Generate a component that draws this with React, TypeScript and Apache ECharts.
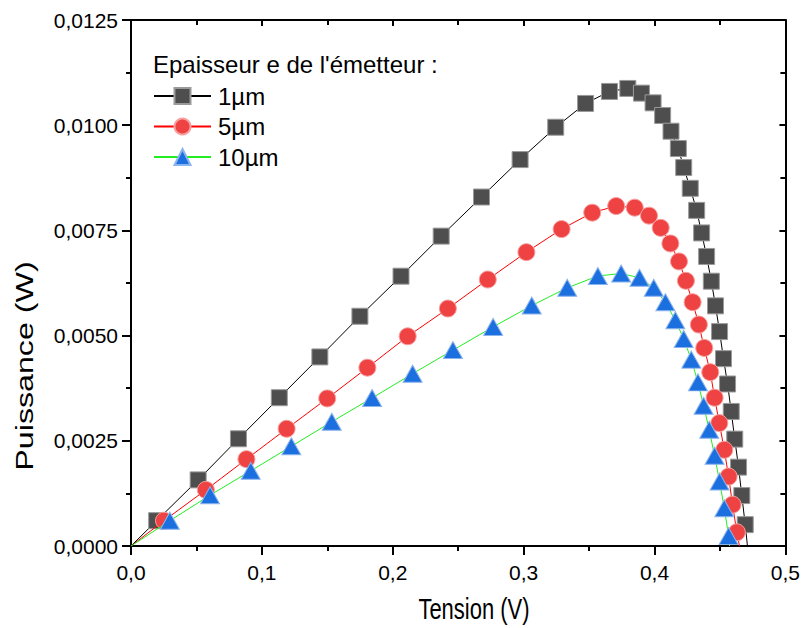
import React, { useEffect, useRef } from "react";
import * as echarts from "echarts";

const names = ["1µm", "5µm", "10µm"];

const v1 = [0, 0.0196, 0.0513, 0.0821, 0.1133, 0.1443, 0.1749, 0.2063, 0.237, 0.2678, 0.2973, 0.3245, 0.3473, 0.3656, 0.3796, 0.39, 0.3989, 0.4062, 0.4126, 0.4182, 0.4223, 0.4273, 0.4322, 0.436, 0.4398, 0.4434, 0.4466, 0.4497, 0.4527, 0.4558, 0.4586, 0.4613, 0.4642, 0.4667, 0.4693, 0.471];
const p1 = [0, 0.000602, 0.001571, 0.002548, 0.003524, 0.004493, 0.00546, 0.006412, 0.007364, 0.008293, 0.009183, 0.009952, 0.010517, 0.010802, 0.010874, 0.010762, 0.010531, 0.010231, 0.009857, 0.009445, 0.008993, 0.0085, 0.007976, 0.00744, 0.006881, 0.006293, 0.005707, 0.005095, 0.004452, 0.00385, 0.003198, 0.00254, 0.001874, 0.001198, 0.000507, 0];

const v2 = [0, 0.0252, 0.0572, 0.0882, 0.1189, 0.1499, 0.1806, 0.2114, 0.2421, 0.2726, 0.3021, 0.329, 0.3524, 0.3707, 0.3849, 0.3958, 0.4047, 0.4121, 0.4187, 0.424, 0.4291, 0.4339, 0.438, 0.4426, 0.4459, 0.4495, 0.4533, 0.4566, 0.4596, 0.4629, 0.4649];
const p2 = [0, 0.000602, 0.001333, 0.002064, 0.002786, 0.003507, 0.004238, 0.004983, 0.005643, 0.006333, 0.006983, 0.007531, 0.007921, 0.008079, 0.00804, 0.00785, 0.00756, 0.00719, 0.006762, 0.006302, 0.005793, 0.005262, 0.004707, 0.004131, 0.003524, 0.002921, 0.002286, 0.00165, 0.000983, 0.000326, 0];

const v3 = [0, 0.0297, 0.0604, 0.0915, 0.1225, 0.1534, 0.1842, 0.2152, 0.246, 0.2767, 0.3062, 0.3333, 0.3567, 0.3745, 0.3885, 0.3994, 0.4083, 0.4159, 0.4223, 0.4281, 0.4332, 0.4375, 0.4418, 0.4459, 0.4497, 0.4533, 0.4566, 0.4573];
const p3 = [0, 0.000602, 0.001207, 0.001786, 0.002369, 0.002952, 0.003517, 0.004095, 0.004655, 0.005207, 0.005714, 0.006136, 0.006417, 0.006476, 0.006374, 0.006136, 0.005793, 0.005364, 0.004921, 0.004429, 0.003888, 0.003333, 0.002762, 0.002143, 0.001531, 0.000898, 0.000238, 0];

const FONT = "'Liberation Sans', Arial, sans-serif";

function build(v: number[], p: number[]) {
  return v.map((x, i) => {
    const item: any = { value: [x, p[i]] };
    if (i === 0 || i === v.length - 1) item.symbol = "none";
    return item;
  });
}

export default function App() {
  const ref = useRef<HTMLDivElement>(null);
  useEffect(() => {
    if (!ref.current) return;
    const chart = echarts.init(ref.current, undefined, { renderer: "svg" });
    const axisCommon = {
      axisLine: { show: true, onZero: false, lineStyle: { color: "#000", width: 2 } },
      splitLine: { show: false },
    };
    const option: any = {
      animation: false,
      backgroundColor: "#fff",
      title: {
        text: "Epaisseur e de l'émetteur :",
        left: 153,
        top: 52,
        padding: 0,
        textStyle: { fontFamily: FONT, fontSize: 24, fontWeight: "normal", color: "#000" },
      },
      legend: {
        orient: "vertical",
        left: 153,
        top: 84,
        padding: 0,
        itemWidth: 57,
        itemHeight: 20,
        itemGap: 6.5,
        textStyle: { fontFamily: FONT, fontSize: 24, color: "#000", padding: [0, 0, 0, 2] },
        data: names,
      },
      graphic: [
        {
          type: "text",
          x: 25,
          y: 366,
          rotation: Math.PI / 2,
          scaleX: 1.4,
          scaleY: 1,
          style: {
            text: "Puissance (W)",
            fontFamily: FONT,
            fontSize: 23,
            fill: "#000",
            align: "center",
            verticalAlign: "middle",
          },
        },
        {
          type: "text",
          x: 474,
          y: 609,
          scaleX: 1,
          scaleY: 1.35,
          style: {
            text: "Tension (V)",
            fontFamily: FONT,
            fontSize: 22,
            fill: "#000",
            align: "center",
            verticalAlign: "middle",
          },
        },
      ],
      grid: { left: 131, right: 16, top: 20, bottom: 82, containLabel: false },
      xAxis: [
        {
          ...axisCommon,
          type: "value",
          min: 0,
          max: 0.5,
          interval: 0.1,
          position: "bottom",
          axisTick: { show: true, inside: false, length: 9, lineStyle: { color: "#000", width: 2 } },
          minorTick: { show: true, splitNumber: 2, length: 5, lineStyle: { color: "#000", width: 2 } },
          axisLabel: {
            fontFamily: FONT,
            fontSize: 21,
            color: "#000",
            margin: 16,
            formatter: (val: number) => val.toFixed(1).replace(".", ","),
          },
        },
        {
          ...axisCommon,
          type: "value",
          min: 0,
          max: 0.5,
          interval: 0.1,
          position: "top",
          axisTick: { show: true, inside: true, length: 6, lineStyle: { color: "#000", width: 2 } },
          minorTick: { show: true, splitNumber: 2, length: 5, lineStyle: { color: "#000", width: 2 } },
          axisLabel: { show: false },
        },
      ],
      yAxis: [
        {
          ...axisCommon,
          type: "value",
          min: 0,
          max: 0.0125,
          interval: 0.0025,
          position: "left",
          axisTick: { show: true, inside: false, length: 9, lineStyle: { color: "#000", width: 2 } },
          minorTick: { show: true, splitNumber: 2, length: 5, lineStyle: { color: "#000", width: 2 } },
          axisLabel: {
            fontFamily: FONT,
            fontSize: 21,
            color: "#000",
            margin: 13,
            formatter: (val: number) => val.toFixed(4).replace(".", ","),
          },
        },
        {
          ...axisCommon,
          type: "value",
          min: 0,
          max: 0.0125,
          interval: 0.0025,
          position: "right",
          axisTick: { show: true, inside: true, length: 6, lineStyle: { color: "#000", width: 2 } },
          minorTick: { show: true, splitNumber: 2, length: 5, lineStyle: { color: "#000", width: 2 } },
          axisLabel: { show: false },
        },
      ],
      series: [
        {
          name: names[0],
          type: "line",
          data: build(v1, p1),
          symbol: "rect",
          symbolSize: 16,
          showAllSymbol: true,
          lineStyle: { color: "#000", width: 1 },
          itemStyle: { color: "#4e4e4e", borderColor: "#9a9a9a", borderWidth: 1 },
          z: 2,
        },
        {
          name: names[1],
          type: "line",
          data: build(v2, p2),
          symbol: "circle",
          symbolSize: 17,
          showAllSymbol: true,
          lineStyle: { color: "#ff0000", width: 1 },
          itemStyle: { color: "#ef4242", borderColor: "#f7a0a0", borderWidth: 1 },
          z: 3,
        },
        {
          name: names[2],
          type: "line",
          data: build(v3, p3),
          symbol: "triangle",
          symbolSize: [19, 17],
          showAllSymbol: true,
          lineStyle: { color: "#22ee22", width: 1 },
          itemStyle: { color: "#1c6fde", borderColor: "#8ab4ee", borderWidth: 1 },
          z: 4,
        },
      ],
    };
    chart.setOption(option);
    return () => chart.dispose();
  }, []);
  return (
    <div
      ref={ref}
      style={{ position: "fixed", left: 0, top: 0, width: 803, height: 628, background: "#fff" }}
    />
  );
}
